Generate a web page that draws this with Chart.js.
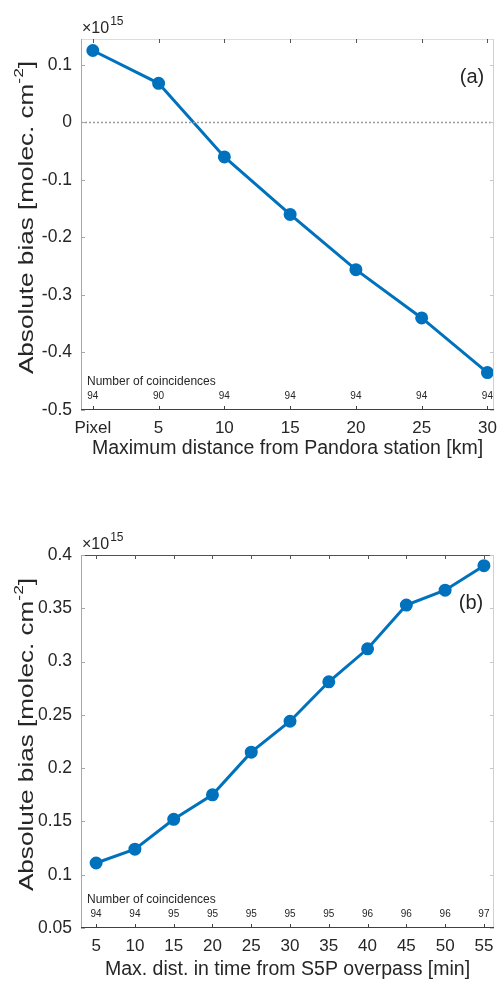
<!DOCTYPE html>
<html><head><meta charset="utf-8">
<script src="https://cdn.jsdelivr.net/npm/chart.js@4/dist/chart.umd.min.js"></script>
<style>
html,body{margin:0;padding:0;background:#fff;}
#wrap{position:relative;width:497px;height:981px;}
.c{position:absolute;left:0;}
</style></head>
<body><div id="wrap">
<div class="c" style="top:0;width:497px;height:490px"><canvas id="ca"></canvas></div>
<div class="c" style="top:490px;width:497px;height:491px"><canvas id="cb"></canvas></div>
</div>
<script>
// ---- data (values in units of 1e15 molec. cm^-2) ----
const distKm = [0, 5, 10, 15, 20, 25, 30];
const distLabels = ['Pixel', '5', '10', '15', '20', '25', '30'];
const biasA = [0.125, 0.068, -0.060, -0.160, -0.256, -0.340, -0.435];
const countsA = [94, 90, 94, 94, 94, 94, 94];
const yTicksA = [-0.5, -0.4, -0.3, -0.2, -0.1, 0, 0.1];

const timeMin = [5, 10, 15, 20, 25, 30, 35, 40, 45, 50, 55];
const timeLabels = ['5', '10', '15', '20', '25', '30', '35', '40', '45', '50', '55'];
const biasB = [0.111, 0.124, 0.152, 0.175, 0.215, 0.244, 0.281, 0.312, 0.353, 0.367, 0.390];
const countsB = [94, 94, 95, 95, 95, 95, 95, 96, 96, 96, 97];
const yTicksB = [0.05, 0.1, 0.15, 0.2, 0.25, 0.3, 0.35, 0.4];

const FONT = '"Liberation Sans", Arial, Helvetica, sans-serif';
const TXT = '#262626';
const BLUE = '#0072BD';

function fmt(v){ return String(+v.toFixed(2)); }

function makeChart(id, cfg){
  const annot = {
    id: 'annot',
    afterDraw(chart){
      const ctx = chart.ctx, a = chart.chartArea;
      const xs = chart.scales.x, ys = chart.scales.y;
      ctx.save();
      // zero line
      if (cfg.zeroLine){
        const y0 = Math.round(ys.getPixelForValue(0)) + 0.5;
        ctx.strokeStyle = '#9a9a9a'; ctx.lineWidth = 1.5; ctx.setLineDash([2,2]);
        ctx.beginPath(); ctx.moveTo(a.left, y0); ctx.lineTo(a.right, y0); ctx.stroke();
        ctx.setLineDash([]);
      }
      // box
      ctx.lineWidth = 1;
      ctx.strokeStyle = cfg.topColor; ctx.beginPath(); ctx.moveTo(a.left, a.top+0.5); ctx.lineTo(a.right, a.top+0.5); ctx.stroke();
      ctx.strokeStyle = '#d0d0d0'; ctx.beginPath(); ctx.moveTo(a.right-0.5, a.top); ctx.lineTo(a.right-0.5, a.bottom); ctx.stroke();
      ctx.strokeStyle = '#a8a8a8'; ctx.beginPath(); ctx.moveTo(a.left+0.5, a.top); ctx.lineTo(a.left+0.5, a.bottom); ctx.stroke();
      ctx.strokeStyle = '#404040'; ctx.beginPath(); ctx.moveTo(a.left, a.bottom-0.5); ctx.lineTo(a.right, a.bottom-0.5); ctx.stroke();
      // ticks
      const tl = 4;
      cfg.xv.forEach(v=>{
        const x = Math.round(xs.getPixelForValue(v))+0.5;
        ctx.strokeStyle = '#404040';
        ctx.beginPath(); ctx.moveTo(x, a.bottom); ctx.lineTo(x, a.bottom-tl); ctx.stroke();
        ctx.strokeStyle = '#555';
        ctx.beginPath(); ctx.moveTo(x, a.top); ctx.lineTo(x, a.top+tl); ctx.stroke();
      });
      cfg.yv.forEach(v=>{
        const y = Math.round(ys.getPixelForValue(v))+0.5;
        ctx.strokeStyle = '#a8a8a8';
        ctx.beginPath(); ctx.moveTo(a.left, y); ctx.lineTo(a.left+tl, y); ctx.stroke();
        ctx.strokeStyle = '#c8c8c8';
        ctx.beginPath(); ctx.moveTo(a.right, y); ctx.lineTo(a.right-tl, y); ctx.stroke();
      });
      // exponent
      ctx.fillStyle = TXT; ctx.textBaseline = 'alphabetic'; ctx.textAlign = 'left';
      ctx.font = '16px ' + FONT;
      ctx.fillText('\u00d710', a.left+1, a.top-6);
      const w = ctx.measureText('\u00d710').width;
      ctx.font = '12px ' + FONT;
      ctx.fillText('15', a.left+1+w+1, a.top-14);
      // panel letter
      ctx.font = '20px ' + FONT; ctx.textAlign = 'center'; ctx.textBaseline = 'middle';
      ctx.fillText(cfg.letter, cfg.letterX, a.top + cfg.letterDY);
      // coincidences
      ctx.font = '12px ' + FONT; ctx.textAlign = 'left';
      ctx.fillText('Number of coincidences', a.left+6, a.bottom-28);
      ctx.font = '10px ' + FONT; ctx.textAlign = 'center';
      cfg.xv.forEach((v,i)=>{
        ctx.fillText(String(cfg.counts[i]), xs.getPixelForValue(v), a.bottom-14);
      });
      // x title
      ctx.font = '19.5px ' + FONT; ctx.textAlign = 'center';
      ctx.fillText(cfg.xTitle, (a.left+a.right)/2, a.bottom + cfg.xTitleDY);
      // y title with superscript
      ctx.translate(33, (a.top+a.bottom)/2 - 7);
      ctx.rotate(-Math.PI/2);
      ctx.scale(1.34, 1);
      ctx.textBaseline = 'alphabetic';
      const F1 = '19.5px ' + FONT, F2 = '13px ' + FONT;
      const s1 = 'Absolute bias [molec. cm', s2 = '-2', s3 = ']';
      ctx.font = F1; const w1 = ctx.measureText(s1).width;
      ctx.font = F2; const w2 = ctx.measureText(s2).width;
      ctx.font = F1; const w3 = ctx.measureText(s3).width;
      let x0 = -(w1+w2+w3)/2;
      ctx.textAlign = 'left';
      ctx.font = F1; ctx.fillText(s1, x0, 0);
      ctx.font = F2; ctx.fillText(s2, x0+w1, -10);
      ctx.font = F1; ctx.fillText(s3, x0+w1+w2, 0);
      ctx.restore();
    }
  };
  return new Chart(document.getElementById(id), {
    type: 'line',
    data: { datasets: [{
      data: cfg.xv.map((x,i)=>({x, y: cfg.yvals[i]})),
      borderColor: BLUE, backgroundColor: BLUE, borderWidth: 3,
      pointRadius: 5, pointBackgroundColor: BLUE, pointBorderColor: BLUE,
      tension: 0, clip: false
    }]},
    options: {
      responsive: true, maintainAspectRatio: false, animation: false,
      layout: { autoPadding: false, padding: { top: cfg.padTop, right: 3, left: 0, bottom: 0 } },
      plugins: { legend: { display: false }, tooltip: { enabled: false } },
      scales: {
        x: {
          type: 'linear', min: cfg.xmin, max: cfg.xmax,
          grid: { display: false, drawTicks: false },
          border: { display: false },
          afterBuildTicks: s => { s.ticks = cfg.xv.map(v=>({value:v})); },
          afterFit: s => { s.height = cfg.xAxisH; s.paddingRight = 0; s.paddingLeft = 0; },
          ticks: { autoSkip: false, maxRotation: 0, padding: 8, color: TXT,
                   font: { family: FONT, size: 17 },
                   callback: (v) => { const i = cfg.xv.indexOf(v); return i>=0 ? cfg.xl[i] : ''; } }
        },
        y: {
          type: 'linear', min: cfg.ymin, max: cfg.ymax,
          grid: { display: false, drawTicks: false },
          border: { display: false },
          afterBuildTicks: s => { s.ticks = cfg.yv.map(v=>({value:v})); },
          afterFit: s => { s.width = 81; s.paddingTop = 0; s.paddingBottom = 0; },
          ticks: { padding: 9, color: TXT, font: { family: FONT, size: 17.5 },
                   callback: v => fmt(v) }
        }
      }
    },
    plugins: [annot]
  });
}

makeChart('ca', {
  xv: distKm, xl: distLabels, yvals: biasA, counts: countsA, yv: yTicksA,
  xmin: -0.9, xmax: 30.5, ymin: -0.5, ymax: 0.145,
  padTop: 39, xAxisH: 80, zeroLine: true, topColor: '#dcdcdc',
  letter: '(a)', letterX: 472, letterDY: 38, xTitleDY: 39,
  xTitle: 'Maximum distance from Pandora station [km]'
});
makeChart('cb', {
  xv: timeMin, xl: timeLabels, yvals: biasB, counts: countsB, yv: yTicksB,
  xmin: 3.05, xmax: 56.3, ymin: 0.05, ymax: 0.4,
  padTop: 65, xAxisH: 53, zeroLine: false, topColor: '#505050',
  letter: '(b)', letterX: 471, letterDY: 48, xTitleDY: 42,
  xTitle: 'Max. dist. in time from S5P overpass [min]'
});
</script>
</body></html>
